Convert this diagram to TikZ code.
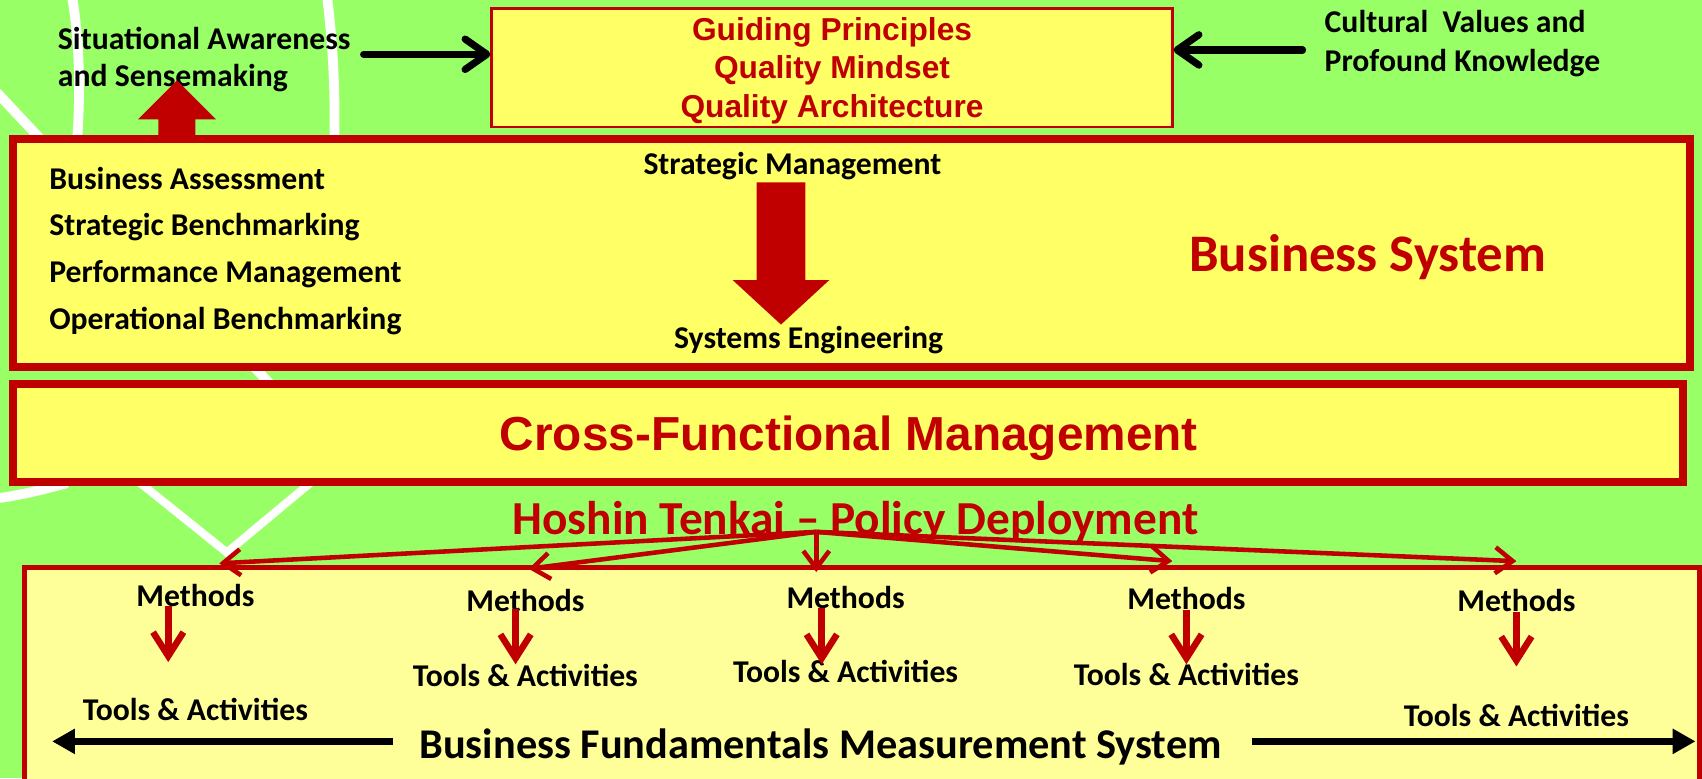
\documentclass[tikz,border=0pt]{standalone}
\usepackage{fontspec}
\setmainfont{Carlito}
\newfontfamily\arialfont{Liberation Sans}
\usetikzlibrary{arrows.meta}
\definecolor{bggreen}{HTML}{99FF66}
\definecolor{boxyellow}{HTML}{FFFF66}
\definecolor{lightyellow}{HTML}{FFFF99}
\definecolor{dred}{HTML}{C00000}
\tikzset{
  whiteline/.style={white, line width=4.5pt},
  whitev/.style={white, line width=3.7pt},
  bigbox/.style={draw=dred, fill=boxyellow, rectangle, inner sep=0pt},
  lowbox/.style={draw=dred, fill=lightyellow, rectangle, inner sep=0pt},
  blk/.style={font=\bfseries\fontsize{14.6}{17}\selectfont, text=black, inner sep=0pt, yshift=-1pt},
  redtext/.style={text=dred, inner sep=0pt, yshift=-1.5pt},
  redarial/.style={font=\arialfont\bfseries\fontsize{14.6}{17.75}\selectfont, text=dred, align=center, inner sep=0pt},
  blackarrow/.style={black, line width=3.3pt, line cap=round, -{Straight Barb[length=10pt, width=14pt, round]}},
  fanarrow/.style={dred, line width=2.1pt, -{Straight Barb[length=8pt, width=12pt]}},
  metharrow/.style={dred, line width=3pt, -{Straight Barb[length=11pt, width=14pt]}},
  bigblack/.style={black, line width=3.2pt, -{Triangle[length=10.5pt, width=11pt]}},
  blockarrow/.style={fill=dred}
}
\begin{document}
\begin{tikzpicture}[x=0.5pt,y=-0.5pt]
\useasboundingbox (0,0) rectangle (1568,717);
\clip (0,0) rectangle (1568,717);
\fill[bggreen] (0,0) rectangle (1568,717);
% background white strokes
\draw[whiteline] (66,-5) .. controls (74,40) and (74,90) .. (71,130);
\draw[whiteline] (301,-5) .. controls (307,40) and (309,90) .. (308,130);
\draw[whiteline] (-5,83) -- (250,355);
\draw[whiteline] (-2,459) .. controls (20,456) and (40,451) .. (62,445);
\draw[whitev] (128,444) -- (209,509) -- (287,444);

% boxes
\node[bigbox, line width=1.2pt, minimum width=313.5pt, minimum height=54.5pt] (gp) at (766.5,62.5) {};
\node[redarial] (gpt) at (766.5,65) {Guiding Principles\\Quality Mindset\\Quality Architecture};
\node[bigbox, line width=4pt, minimum width=772.5pt, minimum height=105pt] (bsbox) at (784.5,233) {};
\node[bigbox, line width=3.75pt, minimum width=769.25pt, minimum height=45.25pt] (cf) at (781,399) {};
\node[redtext, font=\arialfont\bfseries\fontsize{22}{26}\selectfont] (cft) at (782,401) {Cross-Functional Management};
\node[lowbox, line width=2.5pt, minimum width=771.75pt, minimum height=111pt] (fund) at (794.25,634) {};

% top texts
\node[blk, align=left, anchor=west] (sa) at (53,53) {Situational Awareness\\and Sensemaking};
\node[blk, align=left, anchor=west, font=\bfseries\fontsize{14.6}{18}\selectfont] (cv) at (1220,38.5) {Cultural\ \ Values and\\Profound Knowledge};
\coordinate (saa) at (335,50);
\draw[blackarrow] (saa) -- (saa -| gp.west);
\coordinate (cva) at (1200,46);
\draw[blackarrow] (cva) -- (cva -| gp.east);

% up block arrow
\fill[blockarrow] (146,126) -- (146,110) -- (127,110) -- (163,74) -- (199,110) -- (180,110) -- (180,126) -- cycle;

% business system contents
\node[blk, align=left, anchor=west, font=\bfseries\fontsize{14.6}{21.5}\selectfont] (list) at (45,229)
  {Business Assessment\\Strategic Benchmarking\\Performance Management\\Operational Benchmarking};
\node[blk] (sm) at (730,151) {Strategic Management};
\node[blk] (se) at (745,311) {Systems Engineering};
\fill[blockarrow] (697,168) -- (742,168) -- (742,258) -- (764,258) -- (719.5,299) -- (675,258) -- (697,258) -- cycle;
\node[redtext, font=\bfseries\fontsize{24.3}{28}\selectfont] (bs) at (1260,234) {Business System};

% Hoshin
\node[redtext, font=\bfseries\fontsize{21.8}{26}\selectfont] (ht) at (788,478) {Hoshin Tenkai – Policy Deployment};

% fan arrows
\coordinate (hub) at (752,490);
\coordinate (tip1) at (202,519);
\coordinate (tip2) at (487,524);
\coordinate (tip3) at (752,527);
\coordinate (tip4) at (1080,517);
\coordinate (tip5) at (1397,517);
\foreach \t in {tip1,tip2,tip3,tip4,tip5} { \draw[fanarrow] (hub) -- (\t); }

% methods and tools
\node[blk] (m1) at (180,547) {Methods};
\node[blk] (m2) at (484,551) {Methods};
\node[blk] (m3) at (779,548) {Methods};
\node[blk] (m4) at (1093,549) {Methods};
\node[blk] (m5) at (1397,551) {Methods};
\node[blk] (t1) at (180,652) {Tools \& Activities};
\node[blk] (t2) at (484,620) {Tools \& Activities};
\node[blk] (t3) at (779,617) {Tools \& Activities};
\node[blk] (t4) at (1093,619) {Tools \& Activities};
\node[blk] (t5) at (1397,657) {Tools \& Activities};
\coordinate (a1s) at (155,558); \coordinate (a1e) at (155,610);
\coordinate (a2s) at (475,561); \coordinate (a2e) at (475,612);
\coordinate (a3s) at (757,560); \coordinate (a3e) at (757,612);
\coordinate (a4s) at (1093,562); \coordinate (a4e) at (1093,612);
\coordinate (a5s) at (1397,564); \coordinate (a5e) at (1397,614);
\draw[metharrow] (a1s) -- (a1e);
\draw[metharrow] (a2s) -- (a2e);
\draw[metharrow] (a3s) -- (a3e);
\draw[metharrow] (a4s) -- (a4e);
\draw[metharrow] (a5s) -- (a5e);

% bottom measurement system
\node[font=\bfseries\fontsize{19.5}{23}\selectfont, text=black, inner sep=0pt, yshift=-1pt] (bf) at (756,686) {Business Fundamentals Measurement System};
\coordinate (bl1) at (362,683); \coordinate (bl2) at (48,683);
\coordinate (br1) at (1153,683); \coordinate (br2) at (1562,683);
\draw[bigblack] (bl1) -- (bl2);
\draw[bigblack] (br1) -- (br2);
\end{tikzpicture}
\end{document}
